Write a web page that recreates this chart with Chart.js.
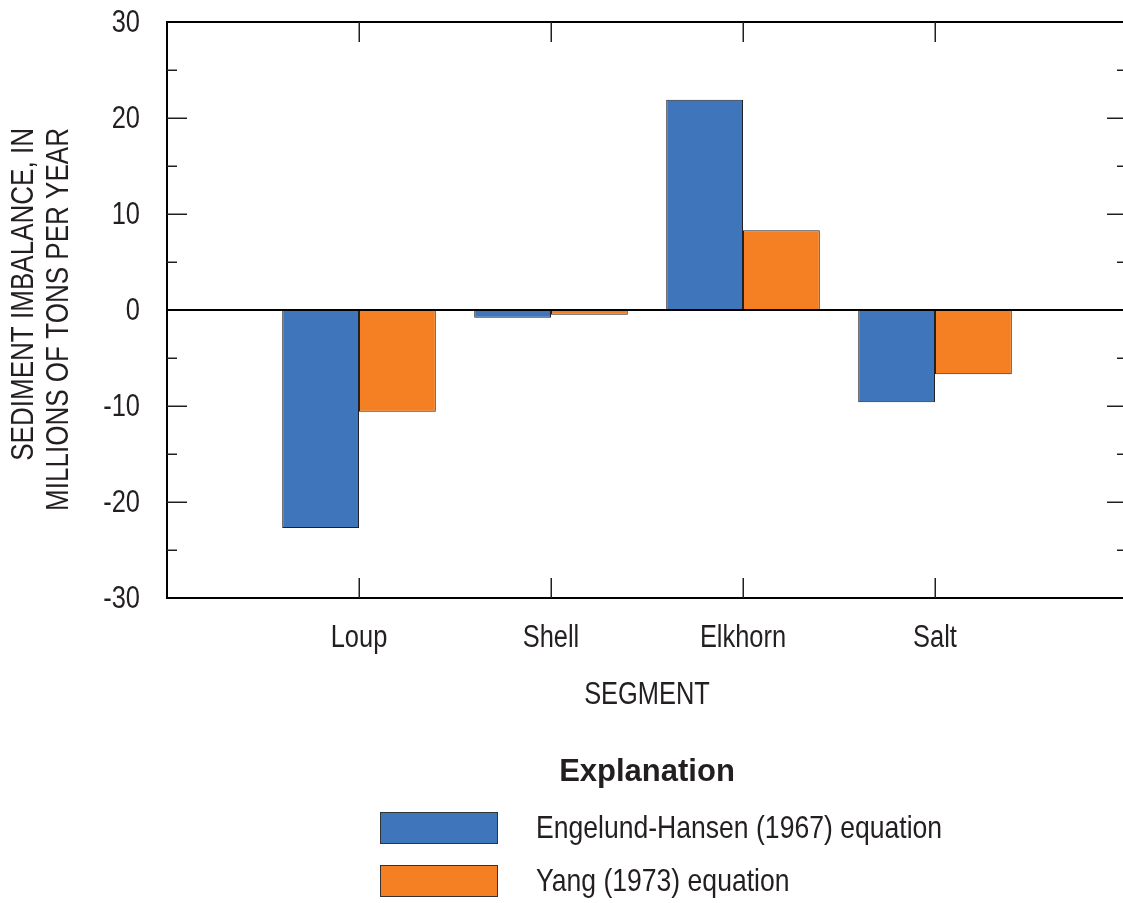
<!DOCTYPE html>
<html>
<head>
<meta charset="utf-8">
<script src="https://cdn.jsdelivr.net/npm/chart.js@4.4.1/dist/chart.umd.min.js"></script>
<style>
  html, body { margin: 0; padding: 0; background: #fff; }
  #wrap { width: 1123px; height: 903px; overflow: hidden; position: relative; }
  canvas { display: block; }
</style>
</head>
<body>
<div id="wrap"><canvas id="c" width="1130" height="903"></canvas></div>
<script>
// River segments and sediment imbalance (millions of tons per year)
const segments = ['Loup', 'Shell', 'Elkhorn', 'Salt'];
const engelundHansen = [-22.7, -0.8, 21.9, -9.6];
const yang = [-10.6, -0.5, 8.3, -6.7];
const yTickValues = [-30, -20, -10, 0, 10, 20, 30];
const seriesNames = ['Engelund-Hansen (1967) equation', 'Yang (1973) equation'];
const seriesColors = ['#3f75bb', '#f58023'];
const xTitle = 'SEGMENT';
const yTitle = ['SEDIMENT IMBALANCE, IN', 'MILLIONS OF TONS PER YEAR'];
const legendTitle = 'Explanation';

const SANS = "'Liberation Sans', Arial, sans-serif";
const INK = '#231f20';
const CONDENSE = 0.82;   // narrow face: horizontally condensed sans

// empty slots at both ends give the half-gap margins of the segment axis
const labels = ['', ...segments, ''];
const pad = arr => [null, ...arr, null];

// condensed text, optionally rotated
function narrowText(ctx, text, x, y, align, rot, squeeze) {
  ctx.save();
  ctx.translate(x, y);
  if (rot) ctx.rotate(rot);
  ctx.scale(squeeze || CONDENSE, 1);
  ctx.textAlign = align;
  ctx.textBaseline = 'middle';
  ctx.fillText(text, 0, 0);
  ctx.restore();
}

const framePlugin = {
  id: 'frame',
  afterDatasetsDraw(chart) {
    const { ctx, chartArea: a, scales: { x, y } } = chart;
    ctx.save();
    ctx.strokeStyle = '#000';
    ctx.lineWidth = 2;
    ctx.strokeRect(a.left, a.top, a.right - a.left, a.bottom - a.top);
    const y0 = Math.round(y.getPixelForValue(0));
    ctx.beginPath();
    ctx.moveTo(a.left, y0);
    ctx.lineTo(a.right, y0);
    ctx.stroke();

    // inward tick marks on left and right sides
    ctx.strokeStyle = INK;
    ctx.lineWidth = 1.5;
    ctx.beginPath();
    y.ticks.forEach(t => {
      if (t.value === y.min || t.value === y.max || t.value === 0) return;
      const py = Math.round(y.getPixelForValue(t.value)) + 0.25;
      const len = yTickValues.includes(t.value) ? 20 : 10;
      ctx.moveTo(a.left, py); ctx.lineTo(a.left + len, py);
      ctx.moveTo(a.right - len, py); ctx.lineTo(a.right, py);
    });
    // segment ticks on bottom and top
    segments.forEach((s, i) => {
      const px = Math.round(x.getPixelForValue(i + 1)) + 0.25;
      ctx.moveTo(px, a.bottom); ctx.lineTo(px, a.bottom - 20);
      ctx.moveTo(px, a.top); ctx.lineTo(px, a.top + 20);
    });
    ctx.stroke();
    ctx.restore();
  },
  afterDraw(chart) {
    const { ctx, chartArea: a, scales: { x, y } } = chart;
    ctx.save();
    ctx.fillStyle = INK;
    ctx.font = '31px ' + SANS;

    // value labels on the left axis
    yTickValues.forEach(v => narrowText(ctx, String(v), a.left - 27, y.getPixelForValue(v) + 1, 'right'));
    // segment names and axis title
    segments.forEach((s, i) => narrowText(ctx, s, x.getPixelForValue(i + 1), a.bottom + 40, 'center'));
    narrowText(ctx, xTitle, (a.left + a.right) / 2, a.bottom + 97, 'center');

    // y-axis title, two rotated lines
    yTitle.forEach((line, i) => narrowText(ctx, line, 24 + i * 35, 128, 'right', -Math.PI / 2, 0.84));

    // explanation block
    ctx.textAlign = 'center';
    ctx.textBaseline = 'middle';
    ctx.font = 'bold 31px ' + SANS;
    ctx.fillText(legendTitle, 647, 772);
    ctx.font = '32px ' + SANS;
    chart.data.datasets.forEach((ds, i) => {
      const top = 812 + i * 53;
      ctx.fillStyle = ds.backgroundColor;
      ctx.fillRect(380, top, 117, 31);
      ctx.strokeStyle = '#333';
      ctx.lineWidth = 1;
      ctx.strokeRect(380.5, top + 0.5, 117, 31);
      ctx.fillStyle = INK;
      narrowText(ctx, ds.label, 536, top + 17, 'left', 0, 0.83);
    });
    ctx.restore();
  }
};

new Chart(document.getElementById('c'), {
  type: 'bar',
  data: {
    labels,
    datasets: [
      { label: seriesNames[0], data: pad(engelundHansen), backgroundColor: seriesColors[0] },
      { label: seriesNames[1], data: pad(yang), backgroundColor: seriesColors[1] }
    ]
  },
  options: {
    responsive: false,
    animation: false,
    devicePixelRatio: 1,
    layout: { padding: { left: 0, right: 3, top: 22, bottom: 0 } },
    datasets: {
      bar: {
        categoryPercentage: 0.8,
        barPercentage: 1.0,
        borderColor: '#222',
        borderWidth: 1,
        borderSkipped: false
      }
    },
    plugins: {
      legend: { display: false },
      tooltip: { enabled: false }
    },
    scales: {
      x: {
        type: 'category',
        offset: false,
        grid: { display: false },
        border: { display: false },
        ticks: { display: false },
        afterFit(scale) { scale.height = 305; }
      },
      y: {
        min: -30,
        max: 30,
        grid: { display: false },
        border: { display: false },
        ticks: { display: false, stepSize: 5 },
        afterFit(scale) { scale.width = 167; }
      }
    }
  },
  plugins: [framePlugin]
});
</script>
</body>
</html>
